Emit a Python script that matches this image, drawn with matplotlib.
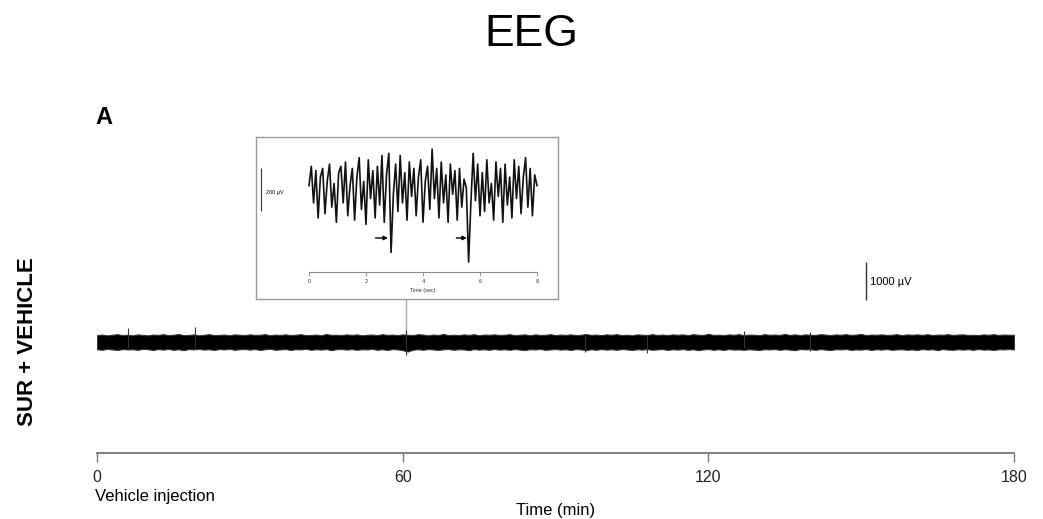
import matplotlib
matplotlib.use('Agg')
import matplotlib.pyplot as plt
import numpy as np

plt.rcParams['font.family'] = ['Liberation Sans', 'DejaVu Sans']

# 主图: 180 min EEG 包络 (每 1 min 一点, µV)
env_step = 1
env_top = [180, 195, 175, 190, 205, 180, 190, 175, 200, 185,
           175, 195, 185, 205, 180, 190, 210, 180, 185, 200,
           175, 190, 205, 180, 185, 195, 175, 200, 190, 180,
           200, 185, 190, 205, 175, 195, 185, 200, 180, 190,
           205, 180, 185, 195, 175, 210, 185, 190, 180, 200,
           185, 200, 175, 190, 195, 180, 205, 185, 195, 180,
           200, 190, 180, 205, 195, 175, 195, 185, 210, 180,
           190, 180, 200, 185, 205, 175, 195, 190, 200, 185,
           190, 205, 180, 190, 200, 175, 200, 185, 190, 205,
           180, 195, 185, 200, 180, 190, 210, 185, 195, 180,
           200, 190, 205, 180, 190, 175, 200, 190, 185, 205,
           185, 195, 180, 200, 190, 200, 180, 205, 190, 185,
           215, 185, 190, 180, 200, 190, 205, 180, 195, 190,
           180, 205, 190, 195, 185, 210, 185, 200, 180, 200,
           190, 185, 205, 195, 180, 200, 190, 205, 185, 195,
           210, 180, 195, 190, 200, 185, 190, 205, 180, 200,
           190, 200, 185, 205, 180, 195, 190, 205, 185, 195,
           200, 185, 190, 180, 200, 190, 205, 185, 195, 190, 190]
env_bot = [-190, -205, -180, -195, -210, -185, -195, -190, -205, -180,
           -190, -210, -185, -200, -180, -205, -190, -215, -185, -195,
           -180, -200, -190, -210, -185, -195, -180, -205, -190, -185,
           -200, -185, -210, -190, -180, -205, -195, -185, -210, -190,
           -195, -180, -205, -190, -200, -185, -215, -190, -185, -200,
           -185, -205, -190, -195, -180, -205, -190, -210, -185, -195,
           -215, -250, -205, -190, -205, -185, -195, -210, -190, -185,
           -205, -190, -195, -215, -185, -200, -190, -205, -185, -200,
           -190, -205, -185, -200, -210, -190, -195, -185, -205, -195,
           -185, -200, -190, -210, -185, -195, -215, -190, -205, -185,
           -200, -190, -205, -185, -195, -210, -190, -200, -185, -205,
           -195, -185, -210, -190, -200, -185, -205, -190, -215, -195,
           -185, -205, -190, -210, -185, -200, -195, -205, -190, -200,
           -210, -190, -195, -185, -205, -190, -200, -215, -185, -195,
           -190, -205, -185, -200, -210, -190, -195, -185, -205, -195,
           -200, -185, -210, -190, -200, -185, -205, -195, -190, -205,
           -195, -210, -185, -200, -190, -215, -185, -200, -205, -190,
           -200, -190, -205, -185, -200, -195, -210, -190, -195, -185, -195]
# 单个尖峰 (min, 下沿, 上沿)
spike_t = [6.1, 19.2, 60.6, 95.8, 108.0, 127.0, 140.0]
spike_lo = [-150, -150, -340, -270, -280, -170, -250]
spike_hi = [370, 395, 320, 150, 150, 300, 260]
main_ticks = [0, 60, 120, 180]

# 放大图: 8 s 片段 (µV, 每 0.08 s)
inset_dt = 0.08
inset_uv = [20, 110, -60, 90, -130, 60, 100, -110, 40, 120,
            -80, 30, -150, 80, 110, -60, 130, -120, 20, 100,
            -140, 60, 150, -90, 40, -160, 140, -40, 90, -130,
            110, -70, 160, -150, 70, 170, -290, -20, 120, -100,
            160, -60, 80, -140, 130, -30, 100, -120, 60, 140,
            -150, 40, 110, -90, 190, -40, 100, -130, 130, -60,
            70, -150, 120, -20, 90, -140, 100, -80, 50, 10,
            -335, -60, 170, -50, 120, -120, 80, -100, 140, -60,
            30, -140, 130, -30, 100, -150, 120, -70, 60, -130,
            140, -40, 110, -110, 60, 150, -80, 100, -120, 70, 20]
arrow_t = [(2.33, 2.77), (5.17, 5.54)]
inset_ticks = [0, 2, 4, 6, 8]

W, H = 1043, 519
fig = plt.figure(figsize=(W / 100, H / 100), dpi=100)


def px_axes(x0, y0, x1, y1):
    # 像素框 -> figure 坐标
    return fig.add_axes([x0 / W, 1 - y1 / H, (x1 - x0) / W, (y1 - y0) / H])


# --- 主图 ---
ax = px_axes(97, 250, 1014, 453)
t_env = np.arange(len(env_top)) * env_step
ax.fill_between(t_env, env_bot, env_top, color='black', lw=0.8, edgecolor='#333333')
ax.vlines(spike_t, spike_lo, spike_hi, color='#333333', lw=0.8)
ax.set_xlim(0, 180)
ax.set_ylim(-2921, 2421)
for s in ['left', 'top', 'right']:
    ax.spines[s].set_visible(False)
ax.spines['bottom'].set_color('#777777')
ax.spines['bottom'].set_linewidth(1.3)
ax.set_yticks([])
ax.set_xticks(main_ticks)
ax.set_xticklabels([str(v) for v in main_ticks], fontsize=11.5, color='#222222')
ax.tick_params(axis='x', length=6.5, width=1, color='#777777', pad=6)

# 标尺 1000 µV
ax.vlines(150.9, 1105, 2105, color='#333333', lw=1, clip_on=False)
ax.text(151.7, 1578, '1000 µV', fontsize=8, va='center', ha='left', clip_on=False)
# 连接线
ax.vlines(60.65, 263, 1131, color='#aaaaaa', lw=1, zorder=0)

# --- 放大框 ---
axb = px_axes(256, 137, 558, 299)
axb.set_xticks([])
axb.set_yticks([])
for s in axb.spines.values():
    s.set_color('#999999')
    s.set_linewidth(1)

axi = px_axes(309, 140, 537, 272)
axi.patch.set_alpha(0)
t_in = np.arange(len(inset_uv)) * inset_dt
axi.plot(t_in, inset_uv, color='#111111', lw=1.2, clip_on=False)
axi.set_xlim(0, 8)
axi.set_ylim(-381, 232)
for s in ['left', 'top', 'right']:
    axi.spines[s].set_visible(False)
axi.spines['bottom'].set_color('#888888')
axi.spines['bottom'].set_linewidth(0.8)
axi.set_yticks([])
axi.set_xticks(inset_ticks)
axi.set_xticklabels([str(v) for v in inset_ticks], fontsize=4, color='#333333')
axi.tick_params(axis='x', length=3, width=0.6, color='#888888', pad=2)
axi.set_xlabel('Time (sec)', fontsize=4, labelpad=3, color='#333333')
axi.vlines(-1.68, -100, 100, color='#333333', lw=0.8, clip_on=False)
axi.text(-1.51, -14, '200 µV', fontsize=4, va='center', ha='left', clip_on=False)
for a, b in arrow_t:
    axi.annotate('', xy=(b, -223), xytext=(a, -223),
                 arrowprops=dict(arrowstyle='-|>', color='black', lw=1.0,
                                 mutation_scale=6, shrinkA=0, shrinkB=0),
                 annotation_clip=False)

# --- 文字 ---
fig.text(531 / W, 1 - 35 / H, 'EEG', fontsize=32, ha='center', va='center')
fig.text(95 / W, 1 - 118 / H, 'A', fontsize=17, fontweight='bold', ha='left', va='center')
fig.text(28 / W, 1 - 342 / H, 'SUR + VEHICLE', fontsize=16, fontweight='bold', rotation=90,
         ha='center', va='center')
fig.text(95 / W, 1 - 497 / H, 'Vehicle injection', fontsize=12, ha='left', va='center')
fig.text(556 / W, 1 - 510 / H, 'Time (min)', fontsize=12, ha='center', va='center')

fig.savefig('out.png', dpi=100)
